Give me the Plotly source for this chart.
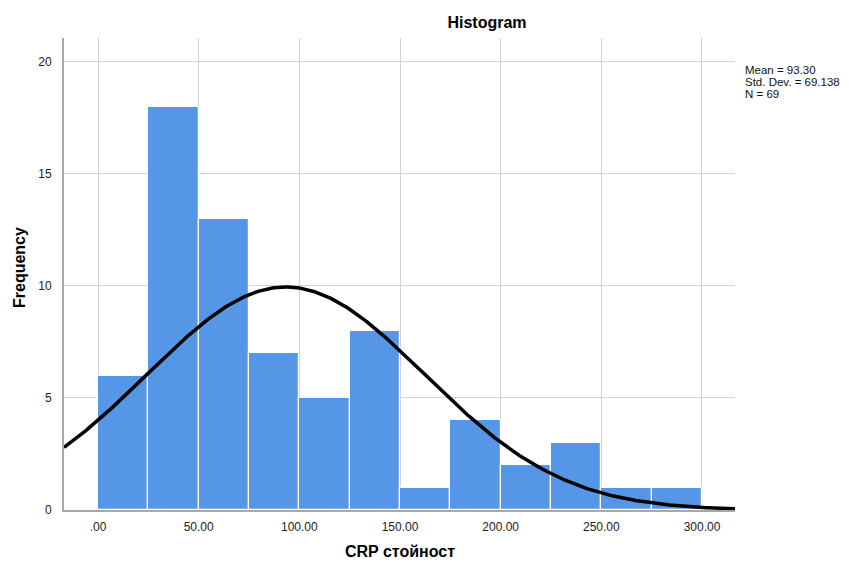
import numpy as np
import plotly.graph_objects as go

# Histogram of CRP values: bin edges (width 25) and frequencies
bin_edges = [0, 25, 50, 75, 100, 125, 150, 175, 200, 225, 250, 275, 300]
counts = [6, 18, 13, 7, 5, 8, 1, 4, 2, 3, 1, 1]
mean_val = 93.30
std_val = 69.138
n_obs = 69

x_ticks = [0, 50, 100, 150, 200, 250, 300]
x_tick_labels = [".00", "50.00", "100.00", "150.00", "200.00", "250.00", "300.00"]
y_ticks = [0, 5, 10, 15, 20]

bin_width = bin_edges[1] - bin_edges[0]
centers = [(a + b) / 2 for a, b in zip(bin_edges[:-1], bin_edges[1:])]

x_range = [-16.9, 316.4]
y_range = [0, 21.07]

# Fitted normal curve scaled to the histogram counts
xs = np.linspace(x_range[0], x_range[1], 400)
ys = n_obs * bin_width / (std_val * np.sqrt(2 * np.pi)) * np.exp(-0.5 * ((xs - mean_val) / std_val) ** 2)

fig = go.Figure()
fig.add_trace(go.Bar(
    x=centers, y=counts, width=bin_width,
    marker=dict(color="#5596E6", line=dict(color="#ffffff", width=1.2)),
    hoverinfo="x+y",
))
fig.add_trace(go.Scatter(
    x=xs, y=ys, mode="lines",
    line=dict(color="#000000", width=3.5),
    hoverinfo="skip",
))

font_family = "Liberation Sans, Arial, sans-serif"

# plot area: left 64, right 735, top 38, bottom 510 (px)
L, R, T, B = 64, 735, 38, 510
W, H = 849, 562


def px_x(px):
    return (px - L) / (R - L)


def px_y(py):
    return (B - py) / (B - T)


stats_lines = [f"Mean = {mean_val:.2f}", f"Std. Dev. = {std_val:.3f}", f"N = {n_obs}"]
stats_annotations = [
    dict(
        x=px_x(743), y=px_y(70 + 12 * i), xref="paper", yref="paper",
        xanchor="left", yanchor="middle", align="left", showarrow=False,
        text=line, font=dict(size=11.5, color="#111111"),
    )
    for i, line in enumerate(stats_lines)
]

fig.update_layout(
    width=W, height=H,
    margin=dict(l=L, r=W - R, t=T, b=H - B),
    paper_bgcolor="#ffffff", plot_bgcolor="#ffffff",
    showlegend=False,
    bargap=0,
    font=dict(family=font_family, size=12, color="#222222"),
    title=dict(text="<b>Histogram</b>", x=487 / W, xanchor="center",
               y=1 - 22 / H, yanchor="middle",
               font=dict(size=16, color="#000000")),
    xaxis=dict(
        range=x_range, tickvals=x_ticks, ticktext=x_tick_labels,
        showgrid=True, gridcolor="#d0d0d0", gridwidth=1,
        zeroline=False, showline=True, linecolor="#a8a8a8", linewidth=2,
        ticks="", ticklabelstandoff=5, automargin=False,
        tickfont=dict(size=12, color="#222222"),
    ),
    yaxis=dict(
        range=y_range, tickvals=y_ticks,
        showgrid=True, gridcolor="#d0d0d0", gridwidth=1,
        zeroline=False, showline=True, linecolor="#a8a8a8", linewidth=2,
        ticks="", ticklabelstandoff=8, automargin=False,
        tickfont=dict(size=12, color="#222222"),
    ),
    annotations=stats_annotations + [
        # axis titles
        dict(
            x=px_x(400), y=px_y(551), xref="paper", yref="paper",
            xanchor="center", yanchor="middle", showarrow=False,
            text="<b>CRP стойност</b>", font=dict(size=16, color="#000000"),
        ),
        dict(
            x=px_x(19), y=px_y(268), xref="paper", yref="paper",
            xanchor="center", yanchor="middle", showarrow=False, textangle=-90,
            text="<b>Frequency</b>", font=dict(size=16, color="#000000"),
        ),
    ],
)

fig.write_html("out.html")
